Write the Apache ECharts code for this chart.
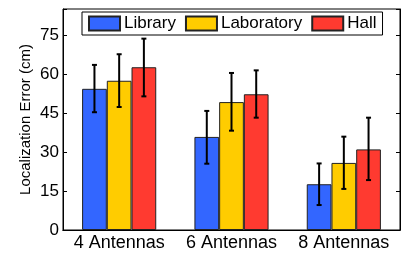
<!DOCTYPE html>
<html>
<head>
<meta charset="utf-8">
<script src="https://cdn.jsdelivr.net/npm/echarts@6/dist/echarts.min.js"></script>
<style>
  html, body { margin: 0; padding: 0; background: #fff; }
</style>
</head>
<body>
<div id="chart" style="width: 404px; height: 253px;"></div>
<script>
const categories = ['4 Antennas', '6 Antennas', '8 Antennas']
const seriesNames = ['Library', 'Laboratory', 'Hall']
const libraryMean = [54.3, 35.8, 17.6]
const libraryErr = [[45.3, 63.5], [25.5, 45.8], [9.6, 25.6]]
const laboratoryMean = [57.4, 49.2, 25.8]
const laboratoryErr = [[47.3, 67.6], [38.2, 60.4], [15.8, 35.9]]
const hallMean = [62.6, 52.2, 31.0]
const hallErr = [[51.4, 73.6], [43.2, 61.4], [19.2, 43.2]]
const yTicks = [0, 15, 30, 45, 60, 75]

const colors = ['#3366ff', '#ffcc00', '#ff3a30']
const means = [libraryMean, laboratoryMean, hallMean]
const errs = [libraryErr, laboratoryErr, hallErr]
const barFrac = 0.22
const font = 'Liberation Sans'

const chartInstance = echarts.init(document.getElementById('chart'))

const barSeries = seriesNames.map((name, i) => ({
  name: name,
  type: 'bar',
  data: means[i],
  barWidth: (barFrac * 100) + '%',
  barGap: '0%',
  itemStyle: {
    color: colors[i],
    borderColor: '#222',
    borderWidth: 1
  }
}))

const errorSeries = seriesNames.map((name, i) => ({
  type: 'custom',
  name: name + '-err',
  z: 5,
  data: errs[i].map((e, k) => [k, e[0], e[1]]),
  renderItem: function (params, api) {
    const k = api.value(0)
    const lo = api.coord([k, api.value(1)])
    const hi = api.coord([k, api.value(2)])
    const bw = api.size([1, 0])[0] * barFrac
    const x = lo[0] + (i - 1) * bw
    const cap = 2.5
    const style = { stroke: '#000', lineWidth: 2 }
    return {
      type: 'group',
      children: [
        { type: 'line', shape: { x1: x, y1: lo[1], x2: x, y2: hi[1] }, style: style },
        { type: 'line', shape: { x1: x - cap, y1: lo[1], x2: x + cap, y2: lo[1] }, style: style },
        { type: 'line', shape: { x1: x - cap, y1: hi[1], x2: x + cap, y2: hi[1] }, style: style }
      ]
    }
  }
}))

const option = {
  animation: false,
  textStyle: { fontFamily: font },
  grid: {
    left: 63,
    right: 4,
    top: 9,
    bottom: 23,
    show: true,
    borderColor: '#000',
    borderWidth: 1
  },
  legend: {
    data: seriesNames,
    icon: 'rect',
    left: 82,
    top: 12,
    padding: [3, 6, 3, 6],
    itemWidth: 31,
    itemHeight: 14,
    itemGap: 9,
    borderColor: '#000',
    borderWidth: 1,
    backgroundColor: '#fff',
    textStyle: { fontSize: 17, color: '#000', fontFamily: font, padding: [0, 0, 0, -1] }
  },
  xAxis: [
    {
      type: 'category',
      data: categories,
      axisLine: { lineStyle: { color: '#000' } },
      axisTick: { inside: true, alignWithLabel: true, length: 4, lineStyle: { color: '#000' } },
      axisLabel: { fontSize: 18, color: '#000', margin: 4, fontFamily: font, interval: 0, hideOverlap: false }
    },
    {
      type: 'category',
      position: 'top',
      data: categories,
      axisLine: { lineStyle: { color: '#000' } },
      axisTick: { inside: true, alignWithLabel: true, length: 4, lineStyle: { color: '#000' } },
      axisLabel: { show: false }
    }
  ],
  yAxis: [
    {
      type: 'value',
      min: 0,
      max: 85,
      interval: 15,
      name: 'Localization Error (cm)',
      nameLocation: 'middle',
      nameGap: 30,
      nameMoveOverlap: false,
      nameTextStyle: { fontSize: 15, color: '#000', fontFamily: font },
      splitLine: { show: false },
      axisLine: { show: true, lineStyle: { color: '#000' } },
      axisTick: { show: true, inside: true, length: 4, lineStyle: { color: '#000' } },
      axisLabel: {
        fontSize: 17,
        color: '#000',
        margin: 4,
        fontFamily: font,
        formatter: v => yTicks.indexOf(v) >= 0 ? String(v) : ''
      }
    },
    {
      type: 'value',
      position: 'right',
      min: 0,
      max: 85,
      interval: 15,
      splitLine: { show: false },
      axisLine: { show: true, lineStyle: { color: '#000' } },
      axisTick: { show: true, inside: true, length: 4, lineStyle: { color: '#000' } },
      axisLabel: { show: false }
    }
  ],
  series: barSeries.concat(errorSeries)
}

chartInstance.setOption(option)
</script>
</body>
</html>
